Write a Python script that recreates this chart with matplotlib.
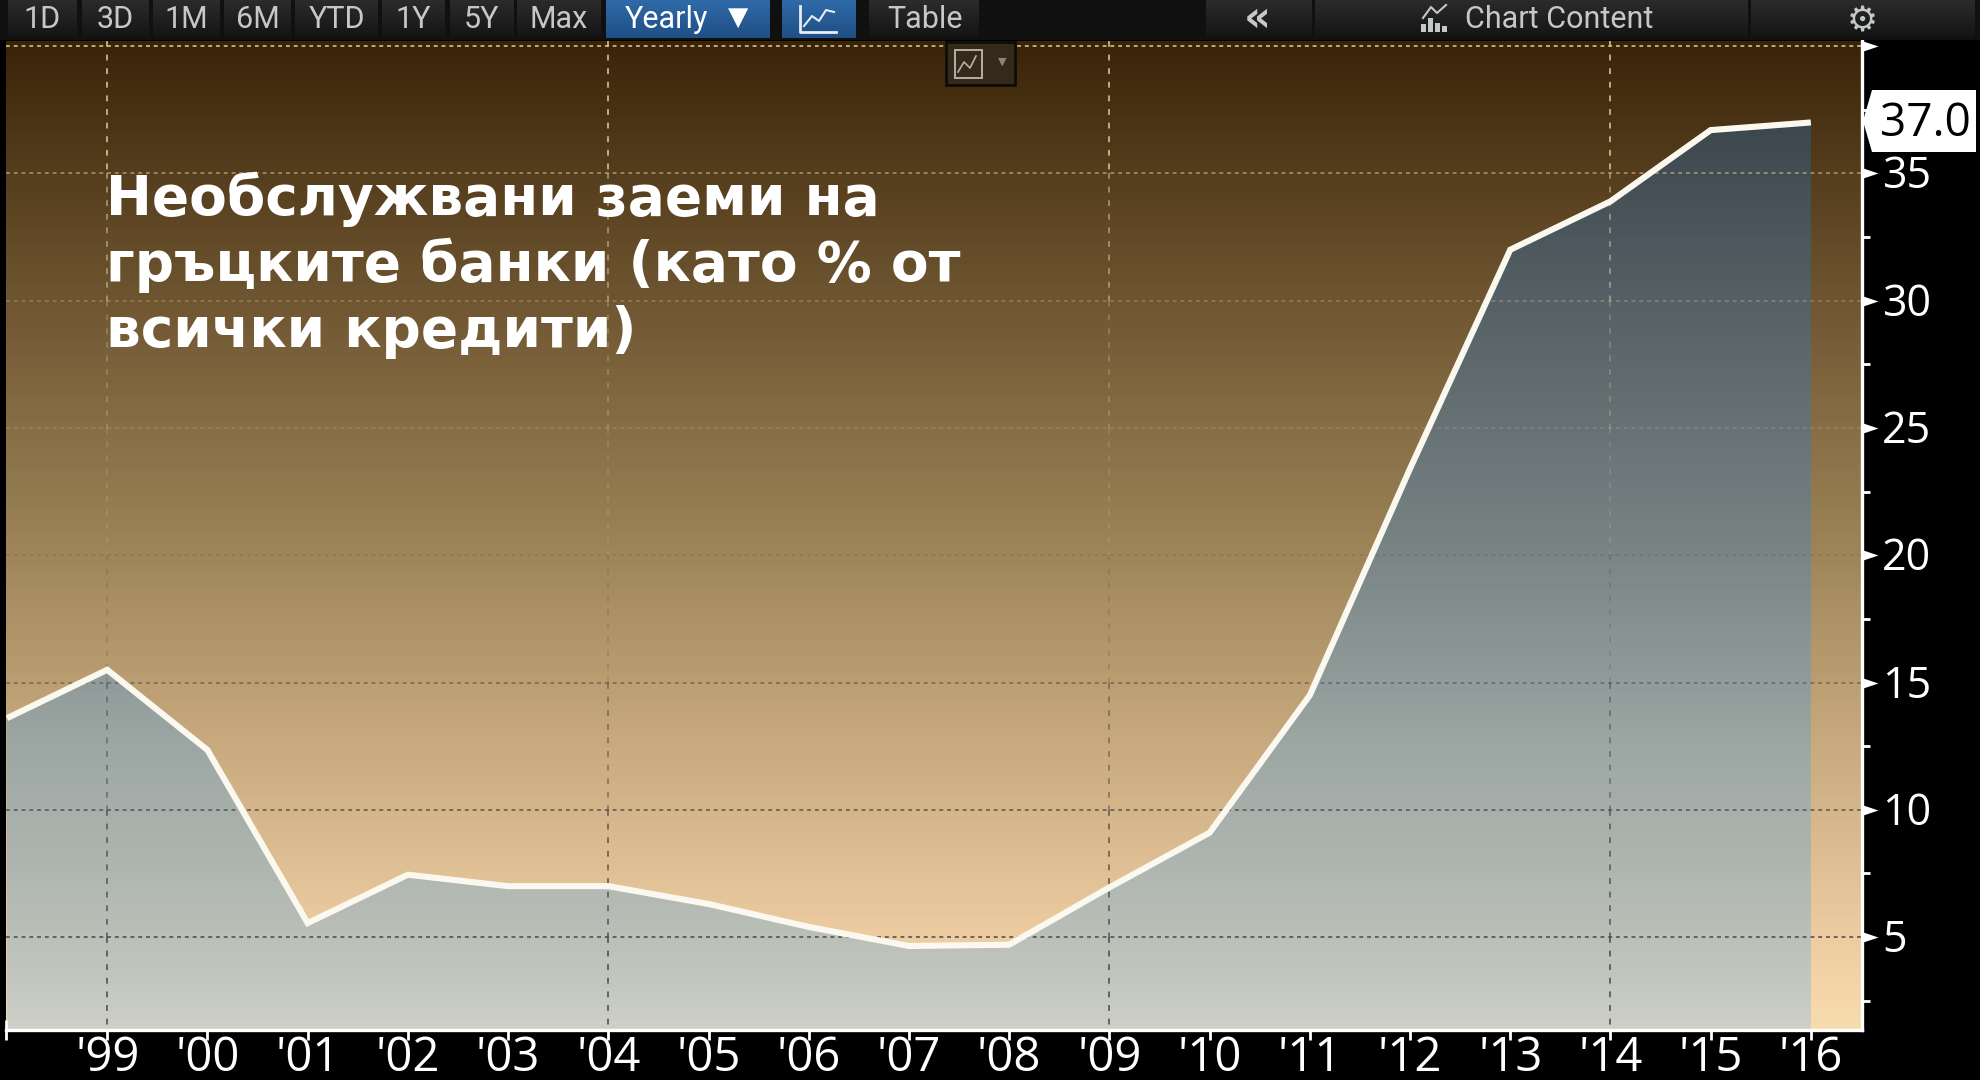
"""Greek banks non-performing loans, terminal style chart."""

import matplotlib
matplotlib.use("Agg")
import matplotlib.pyplot as plt
import numpy as np
from matplotlib.colors import LinearSegmentedColormap
from matplotlib.patches import Polygon, Rectangle

# ── Data ──────────────────────────────────────────────────────────────────────
YEARS = [1998, 1999, 2000, 2001, 2002, 2003, 2004, 2005, 2006, 2007, 2008,
         2009, 2010, 2011, 2012, 2013, 2014, 2015, 2016]
NPL = [13.6, 15.5, 12.35, 5.55, 7.45, 7.0, 7.0, 6.3, 5.4, 4.65, 4.7,
       6.95, 9.1, 14.5, 23.4, 32.0, 33.9, 36.7, 37.0]
X_TICKS = list(range(1999, 2017))
X_LABELS = [f"'{y % 100:02d}" for y in X_TICKS]
Y_TICKS = [5, 10, 15, 20, 25, 30, 35]
Y_TICK_LABELS = ["5", "10", "15", "20", "25", "30", "35"]
LAST_LABEL = "37.0"
TITLE_LINES = ["Необслужвани заеми на", "гръцките банки (като % от", "всички кредити)"]
RANGE_BUTTONS = ["1D", "3D", "1M", "6M", "YTD", "1Y", "5Y", "Max"]

W, H = 1981, 1080
LEFT, RIGHT, TOP, BOTTOM = 6, 1862, 41, 1030
NARROW = ["Liberation Sans Narrow", "Roboto", "DejaVu Sans"]
LABEL_FONT = ["Open Sans", "DejaVu Sans"]

fig = plt.figure(figsize=(W / 100, H / 100), dpi=100, facecolor="black")

# ── Main plot ─────────────────────────────────────────────────────────────────
ax = fig.add_axes([LEFT / W, 1 - BOTTOM / H, (RIGHT - LEFT) / W, (BOTTOM - TOP) / H])
xlim = (1997.99, 2016.51)
ylim = (1.35, 40.2)
ax.set_xlim(xlim)
ax.set_ylim(ylim)

grad = np.linspace(1, 0, 256).reshape(-1, 1)
bg_cmap = LinearSegmentedColormap.from_list("bg", [
    (0.00, "#f9dcae"), (0.10, "#ebcb9f"), (0.30, "#c6a87c"), (0.50, "#9a8256"),
    (0.75, "#6d5430"), (1.00, "#3a2408")])
area_cmap = LinearSegmentedColormap.from_list("area", [
    (0.00, "#cdcfc8"), (0.10, "#b9beb7"), (0.30, "#9aa5a2"), (0.50, "#768182"),
    (0.75, "#545f64"), (1.00, "#303c42")])
ax.imshow(grad, cmap=bg_cmap, extent=(*xlim, *ylim), aspect="auto", zorder=0)
area_img = ax.imshow(grad, cmap=area_cmap, extent=(*xlim, *ylim), aspect="auto", zorder=1)
vertices = list(zip(YEARS, NPL)) + [(YEARS[-1], ylim[0]), (YEARS[0], ylim[0])]
area_poly = Polygon(vertices, closed=True, transform=ax.transData, fc="none", ec="none")
ax.add_patch(area_poly)
area_img.set_clip_path(area_poly)

# grid fades out around the middle: light on the dark top, dark on the light bottom
LIGHT, DARK = "#d8bf95", "#4a4a4a"
grid_levels = [(40, LIGHT, 0.85), (35, LIGHT, 0.55), (30, LIGHT, 0.3), (25, LIGHT, 0.2),
               (20, DARK, 0.2), (15, DARK, 0.5), (10, DARK, 0.7), (5, DARK, 0.8)]
for y, col, alpha in grid_levels:
    ax.axhline(y, color=col, alpha=alpha, lw=1.4, ls=(0, (2, 2)), zorder=2)
band_edges = [ylim[1], 35, 30, 25, 20, 15, 10, 5, ylim[0]]
for x in [1999, 2004, 2009, 2014]:
    for (y0, y1), (_, col, alpha) in zip(zip(band_edges[:-1], band_edges[1:]), grid_levels):
        ax.plot([x, x], [y0, y1], color=col, alpha=alpha, lw=1.4, ls=(0, (3, 4)), zorder=2)

ax.plot(YEARS, NPL, color="#fbf8f0", lw=4.4, solid_joinstyle="miter",
        solid_capstyle="butt", zorder=3)

for side in ("left", "top"):
    ax.spines[side].set_visible(False)
for side in ("right", "bottom"):
    ax.spines[side].set_color("white")
    ax.spines[side].set_linewidth(2.4)

ax.yaxis.tick_right()
ax.set_xticks(X_TICKS, X_LABELS)
ax.set_yticks(Y_TICKS, [])
ax.set_yticks(np.arange(2.5, 40, 5), minor=True)
ax.tick_params(axis="x", colors="white", labelsize=34, length=7, width=2, pad=-4,
               labelfontfamily="Open Sans")
ax.tick_params(axis="y", which="major", length=0)
ax.tick_params(axis="y", which="minor", colors="white", length=6, width=2)
for y, s in zip(Y_TICKS, Y_TICK_LABELS):
    ax.annotate(s, (1, y), xycoords=("axes fraction", "data"), xytext=(20, -15),
                textcoords="offset pixels", color="white", fontsize=31, family="Open Sans",
                ha="left", va="baseline", annotation_clip=False)
# left end tick
ax.plot([xlim[0]], [ylim[0]], marker="|", ms=14, mew=2, color="white", clip_on=False, zorder=5)
# pointers on the value axis, anchored on the spine
pointer = [(0, -1), (0, 1), (3, 0)]
ax.plot([xlim[1]] * 8, Y_TICKS + [40], ls="none", marker=pointer, ms=23, mfc="white", mec="none",
        clip_on=False, zorder=5)

# ── Overlay in pixel coordinates: toolbar, title and last value tag ───────────
ov = fig.add_axes([0, 0, 1, 1], facecolor="none")
ov.set_xlim(0, W)
ov.set_ylim(H, 0)
ov.axis("off")

for i, line in enumerate(TITLE_LINES):
    ov.text(106, 215 + 66 * i, line, color="white", fontsize=39.5, fontweight="bold",
            family="DejaVu Sans", va="baseline", ha="left", zorder=4)


def button(x0, x1, y0, y1, top="#2b2b2b", bot="#141414"):
    cmap = LinearSegmentedColormap.from_list("b", [top, bot])
    ov.imshow(np.linspace(0, 1, 32).reshape(-1, 1), cmap=cmap, aspect="auto",
              extent=(x0, x1, y1, y0), zorder=2)


def label(x, y, s, size=22, color="#c4c8c8", **kw):
    kw.setdefault("family", NARROW)
    ov.text(x, y, s, color=color, fontsize=size, ha="center", va="center", zorder=4, **kw)


ov.add_patch(Rectangle((0, 0), W, 40, fc="#101010", ec="none", zorder=1))
range_edges = [(8, 77), (82, 149), (153, 220), (224, 291), (295, 378),
               (382, 445), (450, 514), (517, 601)]
for (x0, x1), s in zip(range_edges, RANGE_BUTTONS):
    button(x0, x1, 0, 38)
    label((x0 + x1) / 2, 19, s)

button(606, 770, 0, 38, "#2f6aa8", "#1f4f86")
label(666, 19, "Yearly", color="white")
label(738, 18, "▼", size=19, color="white", family="DejaVu Sans")
button(782, 856, 0, 38, "#2f6aa8", "#1f4f86")
ov.plot([800, 800, 836], [6, 32, 32], color="#e8edf2", lw=2, zorder=4)
ov.plot([804, 812, 819, 826, 834], [26, 16, 21, 10, 12], color="#e8edf2", lw=1.5, zorder=4)
button(869, 979, 0, 38)
label(925, 19, "Table")

button(1206, 1312, 0, 38)
label(1257, 19, "«", size=30, family="DejaVu Sans", fontweight="bold")
button(1315, 1748, 0, 38)
label(1559, 19, "Chart Content")
for bx, bh in zip([1421, 1428, 1435, 1442], [8, 14, 9, 6]):
    ov.add_patch(Rectangle((bx, 32 - bh), 5, bh, fc="#c4c8c8", ec="none", zorder=4))
ov.plot([1423, 1431, 1437, 1446], [18, 7, 13, 5], color="#c4c8c8", lw=1.5, zorder=4)
button(1751, 1975, 0, 38)
label(1862, 21, "⚙", size=25, family="DejaVu Sans")

# small chart type button under the toolbar
ov.add_patch(Rectangle((946, 42), 69, 43, fc="#35291b", ec="#0e0c08", lw=2, zorder=3))
ov.add_patch(Rectangle((955, 50), 27, 28, fc="none", ec="#b5b0a5", lw=1.4, zorder=4))
ov.plot([958, 964, 970, 976], [72, 62, 68, 56], color="#b5b0a5", lw=1.2, zorder=4)
label(1002, 62, "▼", size=8, color="#8a8578", family="DejaVu Sans")

# last value tag
tag = [(1863, 121), (1872, 90), (1976, 90), (1976, 152), (1872, 152)]
ov.add_patch(Polygon(tag, closed=True, fc="white", ec="none", zorder=5))
ov.text(1925, 124, LAST_LABEL, color="black", fontsize=33, ha="center", va="center",
        family=LABEL_FONT, zorder=6)

fig.savefig("out.png", dpi=100, facecolor="black")
plt.close(fig)
